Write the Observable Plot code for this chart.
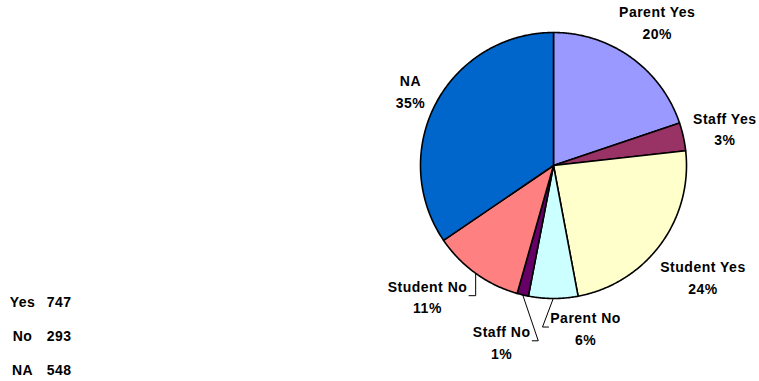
<!DOCTYPE html>
<html><head><meta charset="utf-8">
<script src="https://cdn.jsdelivr.net/npm/d3@7"></script>
<script src="https://cdn.jsdelivr.net/npm/@observablehq/plot@0.6"></script>
<style>body{margin:0;background:#fff}#chart{width:759px;height:381px}</style>
</head><body><div id="chart"></div>
<script>
// ---- data ----
const categories = ["Parent Yes","Staff Yes","Student Yes","Parent No","Staff No","Student No","NA"];
const counts = [315,54,378,95,22,176,548];
const tallyLabels = ["Yes","No","NA"];
const tallyValues = [747,293,548];

// ---- style / layout ----
const colors = ["#9999FF","#993366","#FFFFCC","#CCFFFF","#660066","#FF8080","#0066CC"];
const W = 759, H = 381, CX = 553, CY = 165, R = 133;
const FAMILY = '"Liberation Sans", Arial, Helvetica, sans-serif';
const FS = 14, LS = 0.5, LH = 1.55;
const GAP = 5;

const total = d3.sum(counts);
let acc = 0;
const slices = categories.map((c, i) => {
  const a0 = acc / total * 2 * Math.PI; acc += counts[i];
  const a1 = acc / total * 2 * Math.PI;
  return {cat: c, value: counts[i], a0, a1, mid: (a0 + a1) / 2,
          pct: Math.round(counts[i] / total * 100) + "%"};
});

// wedge outlines in unit coordinates (y up)
const wedgePts = [];
for (const s of slices) {
  wedgePts.push({cat: s.cat, x: 0, y: 0});
  const n = Math.max(2, Math.ceil((s.a1 - s.a0) / (Math.PI / 360)));
  for (let k = 0; k <= n; k++) {
    const a = s.a0 + (s.a1 - s.a0) * k / n;
    wedgePts.push({cat: s.cat, x: Math.sin(a), y: Math.cos(a)});
  }
  wedgePts.push({cat: s.cat, x: 0, y: 0});
}

// approximate text widths (Arial Bold metrics, em units)
const EM = {" ":.278,P:.667,a:.556,r:.389,e:.556,n:.611,t:.333,Y:.667,s:.556,S:.667,f:.333,
  u:.611,d:.611,N:.722,o:.611,A:.722,"%":.889};
const tw = t => [...t].reduce((w, ch) => w + (EM[ch] ?? .556) * FS, 0) + LS * (t.length - 1);
const labels = slices.map(s => {
  const lines = [s.cat, s.pct];
  const hw = d3.max(lines, tw) / 2 + 2;
  const hh = (FS + FS * LH * (lines.length - 1)) / 2 + 2;
  return {s, text: lines.join("\n"), hw, hh, th: s.mid, extra: 0};
});
function place(l) {
  const d = R + GAP + l.extra + Math.abs(Math.sin(l.th)) * l.hw + Math.abs(Math.cos(l.th)) * l.hh;
  l.px = CX + d * Math.sin(l.th); l.py = CY - d * Math.cos(l.th);
}
labels.forEach(place);
const PAD = 16;
for (let it = 0; it < 4000; it++) {
  let moved = false;
  for (let i = 0; i < labels.length; i++) for (let j = i + 1; j < labels.length; j++) {
    const A = labels[i], B = labels[j];
    if (Math.abs(A.px - B.px) < A.hw + B.hw + PAD && Math.abs(A.py - B.py) < A.hh + B.hh + 4) {
      A.th -= 0.003; B.th += 0.003;
      (A.s.value < B.s.value ? A : B).extra += 0.15;
      place(A); place(B); moved = true;
    }
  }
  if (!moved) break;
}
const leaders = [];
for (const l of labels) {
  if (Math.abs(l.th - l.s.mid) < 0.03 && l.extra < 3) continue;
  const ex = CX + R * Math.sin(l.s.mid), ey = CY - R * Math.cos(l.s.mid);
  const right = l.px >= ex;
  const side = right ? l.px - l.hw : l.px + l.hw;
  const elbow = right ? Math.min(ex, side - 6) : Math.max(ex, side + 6);
  [[ex, ey], [elbow, l.py], [side, l.py]].forEach(([x, y]) =>
    leaders.push({cat: l.s.cat, x: (x - CX) / R, y: (CY - y) / R}));
}
const labelData = labels.map(l => ({text: l.text, x: (l.px - CX) / R, y: (CY - l.py) / R}));

const tally = tallyLabels.map((t, i) => ({label: t, value: String(tallyValues[i]),
  x0: (22 - CX) / R, x1: (71 - CX) / R, y: (CY - (302 + i * 34)) / R}));

const chart = Plot.plot({
  width: W, height: H,
  marginTop: 0, marginRight: 0, marginBottom: 0, marginLeft: 0,
  x: {domain: [-CX / R, (W - CX) / R], axis: null},
  y: {domain: [(CY - H) / R, CY / R], axis: null},
  color: {domain: categories, range: colors},
  style: {fontFamily: FAMILY, letterSpacing: LS + "px", background: "#fff"},
  marks: [
    Plot.line(wedgePts, {x: "x", y: "y", z: "cat", fill: "cat", stroke: "black",
      strokeWidth: 1.6, strokeLinejoin: "round", curve: "linear"}),
    Plot.line(leaders, {x: "x", y: "y", z: "cat", stroke: "black", strokeWidth: 1}),
    Plot.text(labelData, {x: "x", y: "y", text: "text", fontSize: FS, fontWeight: "bold",
      fill: "black", lineHeight: LH, textAnchor: "middle"}),
    Plot.text(tally, {x: "x0", y: "y", text: "label", fontSize: FS, fontWeight: "bold",
      fill: "black", textAnchor: "middle"}),
    Plot.text(tally, {x: "x1", y: "y", text: "value", fontSize: FS, fontWeight: "bold",
      fill: "black", textAnchor: "end"})
  ]
});
document.getElementById("chart").append(chart);
</script></body></html>
